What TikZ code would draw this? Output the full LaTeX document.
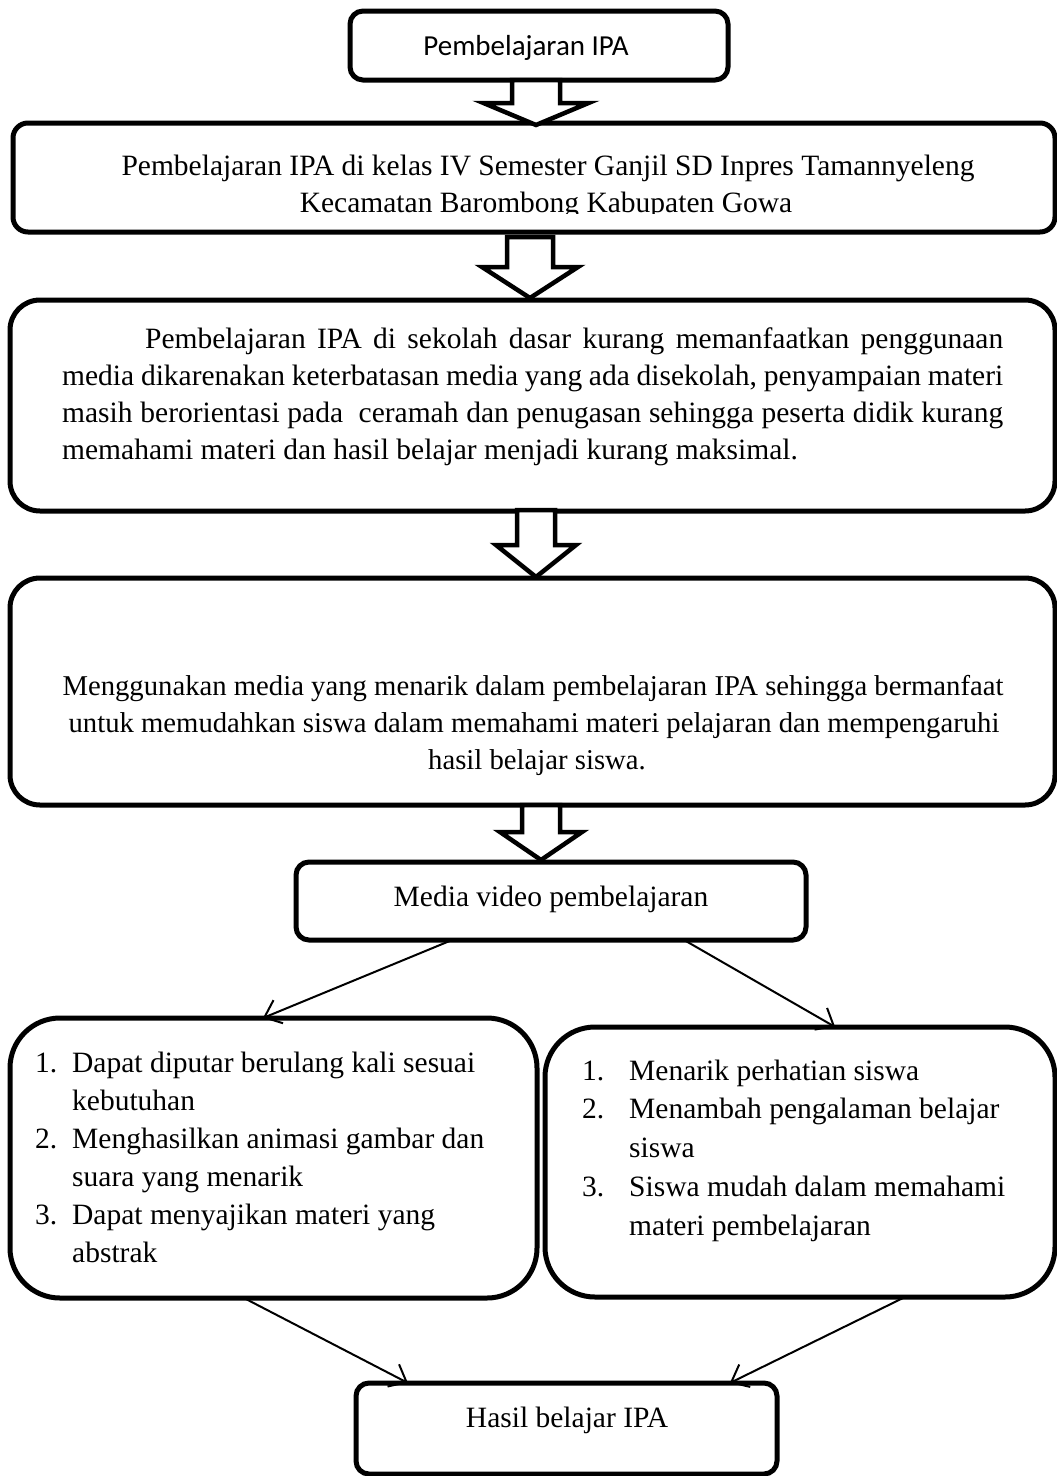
\documentclass[tikz,border=0pt]{standalone}
\usepackage{fontspec}
\setmainfont{Liberation Serif}
\newfontfamily\calib{Carlito}
\usetikzlibrary{arrows.meta,calc}

\tikzset{
  box/.style={draw, line width=5pt, inner sep=0pt, outer sep=0pt, anchor=north west},
  rs/.style={rounded corners=13pt},
  rm/.style={rounded corners=30pt},
  rl/.style={rounded corners=50pt},
  txt/.style={inner sep=0pt, anchor=base, font=\fontsize{29.5}{38}\selectfont},
  txtl/.style={txt, anchor=base west},
  txtn/.style={txt, font=\fontsize{28.7}{37}\selectfont},
  conn/.style={line width=2pt, -{Straight Barb[length=15pt,width=25pt,line width=2pt]}},
  blk/.style={draw, line width=4.5pt, fill=white, line join=miter},
}
% center x, shaft half width, head half width, top y, head y, tip y
\newcommand\blockarr[6]{%
  \draw[blk] (#1-#2,#4) -- (#1+#2,#4) -- (#1+#2,#5) -- (#1+#3,#5) -- (#1,#6)
    -- (#1-#3,#5) -- (#1-#2,#5) -- cycle;}

\begin{document}
\begin{tikzpicture}[x={(1pt,0)}, y={(0,-1pt)}]
\useasboundingbox (0,0) rectangle (1057,1476);
\fill[white] (0,0) rectangle (1057,1476);

% boxes
\node[box, rs, minimum width=378pt, minimum height=69pt] (b1) at (350,11) {};
\node[box, rounded corners=15pt, minimum width=1042pt, minimum height=109pt] (b2) at (13,123) {};
\node[box, rm, minimum width=1045pt, minimum height=211pt] (b3) at (10,300) {};
\node[box, rm, minimum width=1045pt, minimum height=227pt] (b4) at (10,578) {};
\node[box, rs, minimum width=510pt, minimum height=78pt] (b5) at (296,862) {};
\node[box, rl, minimum width=527pt, minimum height=280pt] (b6) at (10,1018) {};
\node[box, rl, minimum width=510pt, minimum height=270pt] (b7) at (545,1027) {};
\node[box, rs, minimum width=421pt, minimum height=91pt] (b8) at (356,1383) {};

% block arrows
\blockarr{536}{24}{52.5}{80}{103}{125}
\blockarr{530}{23}{48}{237}{267}{298}
\blockarr{536}{19}{40}{510}{545}{577}
\blockarr{541}{19}{41}{805}{832}{860}

% texts
\node[txt, font=\calib\fontsize{29}{36}\selectfont] (t1) at (526,55) {Pembelajaran IPA};

\node[txt] (t2a) at (548,175) {Pembelajaran IPA di kelas IV Semester Ganjil SD Inpres Tamannyeleng};
\begin{scope}
\clip (0,0) rectangle (1057,213);
\node[txt] (t2b) at (546,212) {Kecamatan Barombong Kabupaten Gowa};
\end{scope}

\node[txtl] (t3a) at (62,348) {\makebox[941pt][s]{\hspace*{83pt}Pembelajaran IPA di sekolah dasar kurang memanfaatkan penggunaan}};
\node[txtl] (t3b) at (62,385) {\makebox[941pt][s]{media dikarenakan keterbatasan media yang ada disekolah, penyampaian materi}};
\node[txtl] (t3c) at (62,422) {\makebox[941pt][s]{masih berorientasi pada\ \ ceramah dan penugasan sehingga peserta didik kurang}};
\node[txtl] (t3d) at (62,459) {memahami materi dan hasil belajar menjadi kurang maksimal.};

\node[txtn] (t4a) at (533,695) {Menggunakan media yang menarik dalam pembelajaran IPA sehingga bermanfaat};
\node[txtn] (t4b) at (534,732) {untuk memudahkan siswa dalam memahami materi pelajaran dan mempengaruhi};
\node[txtn] (t4c) at (537,769) {hasil belajar siswa.};

\node[txt] (t5) at (551,906) {Media video pembelajaran};

\node[txtl] (n6a) at (35,1072) {1.};
\node[txtl] (t6a) at (72,1072) {Dapat diputar berulang kali sesuai};
\node[txtl] (t6b) at (72,1110) {kebutuhan};
\node[txtl] (n6c) at (35,1148) {2.};
\node[txtl] (t6c) at (72,1148) {Menghasilkan animasi gambar dan};
\node[txtl] (t6d) at (72,1186) {suara yang menarik};
\node[txtl] (n6e) at (35,1224) {3.};
\node[txtl] (t6e) at (72,1224) {Dapat menyajikan materi yang};
\node[txtl] (t6f) at (72,1262) {abstrak};

\node[txtl] (n7a) at (582,1080) {1.};
\node[txtl] (t7a) at (629,1080) {Menarik perhatian siswa};
\node[txtl] (n7b) at (582,1118) {2.};
\node[txtl] (t7b) at (629,1118) {Menambah pengalaman belajar};
\node[txtl] (t7c) at (629,1157) {siswa};
\node[txtl] (n7d) at (582,1196) {3.};
\node[txtl] (t7d) at (629,1196) {Siswa mudah dalam memahami};
\node[txtl] (t7e) at (629,1235) {materi pembelajaran};

\node[txt] (t8) at (567,1427) {Hasil belajar IPA};

% connectors
\draw[conn] ($(b5.south west)!0.306!(b5.south east)$) -- ($(b6.north west)!0.48!(b6.north east)$);
\draw[conn] ($(b5.south west)!0.761!(b5.south east)$) -- ($(b7.north west)!0.569!(b7.north east)$);
\draw[conn] ($(b6.south west)!0.444!(b6.south east)$) -- ($(b8.north west)!0.1235!(b8.north east)$);
\draw[conn] ($(b7.south west)!0.706!(b7.south east)$) -- ($(b8.north west)!0.888!(b8.north east)$);
\end{tikzpicture}
\end{document}
